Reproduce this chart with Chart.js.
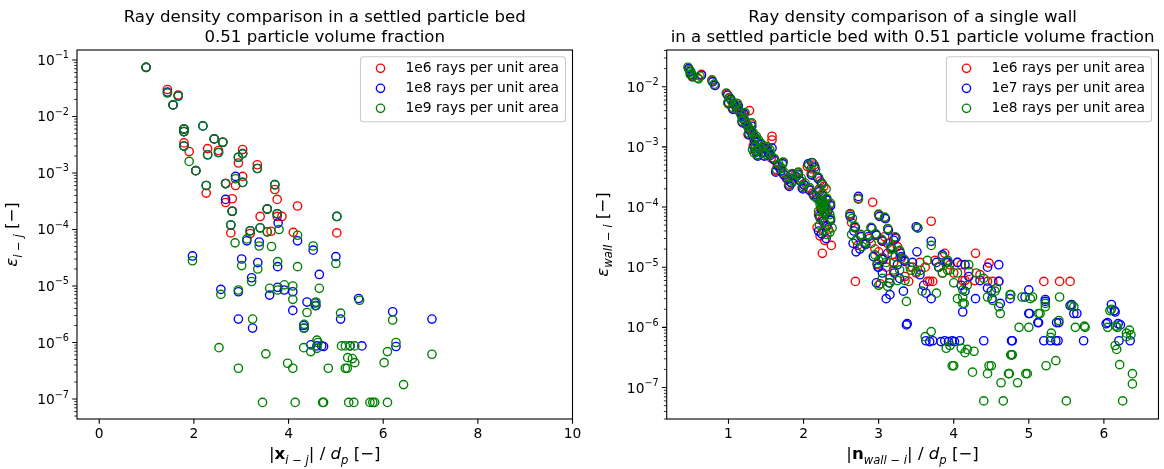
<!DOCTYPE html>
<html>
<head>
<meta charset="utf-8">
<script src="https://cdn.jsdelivr.net/npm/chart.js@4"></script>
<style>
  body { margin: 0; background: #fff; width: 1164px; height: 469px; overflow: hidden; position: relative; }
  .panel { position: absolute; top: 0; height: 469px; }
</style>
</head>
<body>
<div class="panel" style="left:0;width:585px"><canvas id="bed" width="585" height="469"></canvas></div>
<div class="panel" style="left:585px;width:579px"><canvas id="wall" width="579" height="469"></canvas></div>
<script>
const FONT = '"DejaVu Sans", sans-serif';
const colors = ['#ff0000', '#0000ff', '#008000'];

// left panel: particle to particle
const bedLabels = ['1e6 rays per unit area', '1e8 rays per unit area', '1e9 rays per unit area'];
const bedXTicks = [0, 2, 4, 6, 8, 10];
const bedYTicks = [1e-7, 1e-6, 1e-5, 1e-4, 1e-3, 1e-2, 1e-1];

const bed1e6 = [
  [0.99, 7.4e-2], [1.44, 3.0e-2], [1.67, 2.4e-2], [1.56, 1.6e-2], [1.79, 6.0e-3], [1.79, 5.4e-3],
  [1.79, 3.4e-3], [1.90, 2.4e-3], [2.04, 1.1e-3], [2.26, 4.4e-4], [2.29, 2.7e-3], [2.43, 4.0e-3],
  [2.52, 2.5e-3], [2.61, 3.5e-3], [2.67, 6.5e-4], [2.67, 3.0e-4], [2.81, 3.5e-4], [2.81, 2.1e-4],
  [2.78, 8.7e-5], [2.88, 6.0e-4], [2.94, 1.5e-3], [3.03, 2.6e-3], [3.03, 8.7e-4], [3.34, 1.4e-3],
  [3.40, 1.7e-4], [3.55, 2.3e-4], [3.71, 5.1e-4], [3.76, 3.4e-4], [3.76, 1.7e-4], [3.86, 1.7e-4],
  [4.19, 2.6e-4], [5.02, 8.7e-5], [3.19, 8.5e-5], [3.55, 9.1e-5], [3.63, 9.3e-5], [4.10, 8.9e-5]
];
const bed1e8 = [
  [0.99, 7.4e-2], [1.44, 2.7e-2], [1.67, 2.3e-2], [1.56, 1.6e-2], [1.79, 6.0e-3], [1.79, 5.4e-3],
  [1.79, 3.0e-3], [2.04, 1.1e-3], [2.19, 6.8e-3], [2.26, 6.0e-4], [2.29, 2.1e-3], [2.43, 4.0e-3],
  [2.52, 2.3e-3], [2.61, 3.5e-3], [2.67, 6.5e-4], [2.67, 3.4e-4], [2.81, 2.1e-4], [2.78, 1.2e-4],
  [2.88, 8.7e-4], [2.94, 1.9e-3], [3.03, 2.2e-3], [3.03, 6.8e-4], [3.34, 1.2e-3], [3.40, 1.07e-4],
  [3.55, 2.3e-4], [3.71, 6.2e-4], [3.76, 1.9e-4], [3.78, 1.3e-4], [5.02, 1.7e-4], [3.19, 9.5e-5],
  [3.12, 6.3e-5], [4.19, 6.3e-5], [1.97, 3.4e-5], [2.57, 8.7e-6], [2.94, 7.9e-6], [2.94, 2.6e-6],
  [3.01, 3.0e-5], [3.22, 1.4e-5], [3.24, 1.8e-6], [3.38, 6.0e-5], [3.35, 2.6e-5], [3.60, 6.9e-6],
  [3.77, 2.2e-5], [3.77, 9.5e-6], [3.91, 8.5e-6], [4.09, 7.9e-6], [4.09, 3.7e-6], [4.39, 5.2e-6],
  [4.33, 1.8e-6], [4.47, 9.1e-7], [4.52, 4.3e-5], [4.58, 4.5e-6], [4.60, 8.7e-7], [4.65, 1.6e-5],
  [4.74, 8.5e-7], [5.00, 3.3e-5], [5.10, 2.6e-6], [5.30, 8.7e-7], [5.48, 6.0e-6], [5.55, 8.7e-7],
  [6.20, 3.5e-6], [6.27, 8.5e-7], [7.03, 2.6e-6], [4.56, 5.0e-6], [4.32, 2.0e-6], [4.70, 8.7e-7]
];
const bed1e9 = [
  [0.99, 7.4e-2], [1.44, 2.6e-2], [1.67, 2.3e-2], [1.56, 1.6e-2], [1.79, 6.0e-3], [1.79, 5.4e-3],
  [1.79, 3.0e-3], [1.90, 1.6e-3], [2.04, 1.1e-3], [2.19, 6.8e-3], [2.26, 6.0e-4], [2.29, 2.1e-3],
  [2.43, 4.0e-3], [2.52, 2.3e-3], [2.61, 3.5e-3], [2.67, 6.5e-4], [2.81, 2.1e-4], [2.78, 1.2e-4],
  [2.88, 7.9e-4], [2.94, 1.9e-3], [3.03, 2.2e-3], [3.03, 6.8e-4], [3.34, 1.2e-3], [3.40, 1.07e-4],
  [3.55, 2.3e-4], [3.71, 6.2e-4], [3.76, 1.9e-4], [3.80, 1.0e-4], [5.02, 1.7e-4], [3.19, 9.5e-5],
  [3.55, 9.1e-5], [4.19, 7.9e-5], [2.87, 5.8e-5], [3.12, 6.8e-5], [3.64, 5.0e-5], [4.52, 5.1e-5],
  [1.97, 2.8e-5], [2.57, 7.1e-6], [2.94, 8.5e-6], [2.53, 8.1e-7], [2.94, 3.5e-7], [3.01, 2.3e-5],
  [3.22, 1.2e-5], [3.24, 2.6e-6], [3.38, 5.1e-5], [3.35, 2.0e-5], [3.45, 8.7e-8], [3.52, 6.3e-7],
  [3.60, 9.1e-6], [3.77, 2.7e-5], [3.77, 8.5e-6], [3.91, 1.05e-5], [3.98, 4.3e-7], [4.09, 1.0e-5],
  [4.09, 5.8e-6], [4.09, 3.5e-7], [4.14, 8.7e-8], [4.19, 2.2e-5], [4.39, 3.4e-6], [4.33, 2.1e-6],
  [4.32, 8.1e-7], [4.47, 6.9e-7], [4.58, 5.2e-6], [4.60, 1.1e-6], [4.62, 1.0e-6], [4.60, 7.9e-7],
  [4.65, 9.1e-6], [4.74, 8.7e-8], [4.72, 8.7e-8], [4.84, 3.5e-7], [5.10, 3.3e-6], [5.12, 8.7e-7],
  [5.20, 8.7e-7], [5.25, 5.4e-7], [5.27, 8.7e-8], [5.24, 3.5e-7], [5.20, 3.5e-7], [5.35, 5.2e-7],
  [5.40, 4.4e-7], [5.38, 8.7e-8], [5.50, 5.6e-6], [5.72, 8.7e-8], [5.78, 8.7e-8], [5.82, 8.7e-8],
  [6.20, 2.5e-6], [6.27, 1.0e-6], [6.09, 6.9e-7], [6.02, 4.4e-7], [6.43, 1.8e-7], [6.09, 8.7e-8],
  [7.03, 6.2e-7], [4.56, 4.5e-6], [4.32, 1.8e-6], [5.00, 2.5e-5], [5.30, 8.7e-7], [5.40, 8.7e-7]
];

// right panel: single wall
const wallLabels = ['1e6 rays per unit area', '1e7 rays per unit area', '1e8 rays per unit area'];
const wallXTicks = [1, 2, 3, 4, 5, 6];
const wallYTicks = [1e-7, 1e-6, 1e-5, 1e-4, 1e-3, 1e-2];

const wall1e6 = [
  [0.47, 2.0e-2], [0.49, 1.8e-2], [0.50, 1.6e-2], [0.52, 1.45e-2], [0.64, 1.6e-2], [0.59, 1.4e-2],
  [0.78, 1.25e-2], [0.82, 1.05e-2], [0.98, 7.5e-3], [1.02, 6.5e-3], [1.06, 5.3e-3], [1.10, 4.5e-3],
  [1.14, 4.0e-3], [1.17, 3.4e-3], [1.21, 2.8e-3], [1.28, 4.0e-3], [1.24, 2.3e-3], [1.27, 2.0e-3],
  [1.31, 1.7e-3], [1.35, 1.45e-3], [1.38, 1.25e-3], [1.33, 1.05e-3], [1.40, 9.5e-4], [1.44, 8.2e-4],
  [1.47, 7.2e-4], [1.52, 8.5e-4], [1.58, 1.5e-3], [1.58, 1.3e-3], [1.57, 6.5e-4], [1.65, 5.0e-4],
  [1.69, 4.3e-4], [1.73, 3.6e-4], [1.77, 3.0e-4], [1.82, 2.6e-4], [1.88, 3.3e-4], [1.94, 2.9e-4],
  [2.00, 2.4e-4], [2.05, 4.7e-4], [2.10, 4.3e-4], [2.14, 5.0e-4], [2.18, 3.2e-4], [2.22, 2.7e-4],
  [2.27, 2.2e-4], [2.12, 1.7e-4], [2.17, 1.5e-4], [2.22, 1.3e-4], [2.27, 1.1e-4], [2.32, 9.0e-5],
  [2.20, 7.5e-5], [2.25, 6.2e-5], [2.30, 5.0e-5], [2.18, 4.6e-5], [2.25, 1.7e-5], [2.37, 2.3e-5],
  [2.33, 4.3e-5], [2.64, 5.5e-5], [2.73, 1.4e-4], [2.92, 1.2e-4], [2.69, 5.8e-6], [2.72, 2.3e-5],
  [2.88, 3.0e-5], [2.95, 2.0e-5], [3.00, 1.8e-5], [3.02, 5.3e-6], [3.10, 1.0e-5], [3.15, 6.5e-6],
  [3.08, 3.2e-5], [3.12, 2.5e-5], [3.18, 1.6e-5], [3.20, 1.2e-5], [3.25, 2.2e-5], [3.30, 1.4e-5],
  [3.40, 5.8e-6], [3.45, 1.0e-5], [3.50, 8.0e-6], [3.70, 5.8e-5], [3.65, 5.8e-6], [3.68, 5.8e-6],
  [3.72, 5.8e-6], [3.88, 1.7e-5], [3.80, 1.0e-5], [4.00, 8.0e-6], [4.12, 6.0e-6], [4.15, 6.0e-6],
  [4.28, 6.0e-6], [4.29, 1.7e-5], [4.47, 1.17e-5], [4.45, 5.8e-6], [4.52, 5.8e-6], [5.20, 5.8e-6],
  [5.41, 5.8e-6], [5.55, 5.8e-6], [3.95, 1.1e-5], [4.10, 1.1e-5], [3.35, 7.0e-6],
  [1.00, 5.5e-3], [1.05, 4.4e-3], [1.12, 5.2e-3], [1.18, 2.6e-3], [1.20, 3.6e-3], [1.26, 1.6e-3],
  [1.30, 2.4e-3], [1.34, 1.3e-3], [1.36, 8.5e-4], [1.42, 1.1e-3], [1.46, 1.0e-3], [1.50, 9.5e-4],
  [1.55, 7.5e-4], [1.61, 6.0e-4], [1.38, 7.2e-4], [1.63, 4.0e-4], [1.72, 5.5e-4], [1.80, 2.3e-4],
  [1.84, 3.5e-4], [1.92, 3.7e-4], [1.98, 2.1e-4], [2.07, 2.0e-4], [2.10, 3.5e-4], [2.20, 1.9e-4],
  [2.24, 1.6e-4], [2.30, 1.35e-4], [2.35, 1.1e-4], [2.23, 9.5e-5], [2.28, 8.0e-5], [2.35, 6.2e-5],
  [2.22, 3.3e-5], [2.28, 2.8e-5], [2.62, 7.5e-5], [2.68, 4.5e-5], [2.76, 3.3e-5], [2.82, 2.5e-5],
  [2.90, 4.5e-5], [2.96, 3.5e-5], [3.00, 7.4e-5], [3.04, 2.8e-5], [3.08, 6.6e-5], [3.12, 4.3e-5],
  [3.16, 2.0e-5], [3.22, 3.0e-5], [3.28, 1.8e-5], [3.34, 1.3e-5], [3.05, 1.4e-5], [2.98, 1.1e-5],
  [3.20, 8.5e-6], [3.55, 1.2e-5], [3.62, 1.0e-5], [3.75, 1.3e-5], [3.85, 8.0e-6], [3.92, 1.2e-5],
  [4.05, 1.2e-5], [4.20, 8.5e-6], [4.35, 7.5e-6], [4.60, 5.8e-6]
];
const wall1e7 = [
  [0.47, 2.0e-2], [0.49, 1.8e-2], [0.51, 1.6e-2], [0.52, 1.5e-2], [0.64, 1.55e-2], [0.79, 1.2e-2],
  [0.82, 1.05e-2], [0.99, 7.2e-3], [1.03, 6.2e-3], [1.07, 5.2e-3], [1.11, 4.4e-3], [1.15, 3.8e-3],
  [1.18, 3.2e-3], [1.22, 2.7e-3], [1.25, 2.3e-3], [1.28, 1.9e-3], [1.32, 1.6e-3], [1.36, 1.4e-3],
  [1.39, 1.2e-3], [1.34, 1.0e-3], [1.41, 9.0e-4], [1.45, 8.0e-4], [1.48, 7.0e-4], [1.53, 8.0e-4],
  [1.58, 9.5e-4], [1.66, 4.8e-4], [1.70, 4.0e-4], [1.74, 3.4e-4], [1.79, 2.9e-4], [1.84, 2.5e-4],
  [1.90, 3.2e-4], [1.96, 2.7e-4], [2.01, 2.3e-4], [2.06, 5.2e-4], [2.11, 5.5e-4], [2.15, 4.6e-4],
  [2.19, 3.0e-4], [2.24, 2.5e-4], [2.13, 1.6e-4], [2.18, 1.4e-4], [2.23, 1.25e-4], [2.28, 1.05e-4],
  [2.33, 8.8e-5], [2.21, 7.0e-5], [2.26, 5.8e-5], [2.24, 3.6e-5], [2.31, 4.8e-5], [2.67, 4.0e-5],
  [2.73, 1.5e-4], [2.66, 2.5e-5], [2.70, 1.8e-5], [2.75, 2.0e-5], [2.86, 3.2e-5], [2.93, 1.5e-5],
  [2.97, 5.5e-6], [3.00, 1.0e-5], [3.05, 8.0e-6], [3.10, 3.0e-6], [3.15, 3.5e-6], [3.12, 1.7e-5],
  [3.20, 2.8e-5], [3.25, 1.1e-5], [3.33, 4.0e-6], [3.37, 1.1e-6], [3.30, 1.5e-5], [3.50, 4.7e-5],
  [3.52, 4.5e-5], [3.70, 2.7e-5], [3.45, 1.2e-5], [3.55, 7.5e-6], [3.60, 5.0e-6], [3.63, 6.0e-7],
  [3.72, 6.0e-7], [3.80, 1.0e-5], [3.90, 1.2e-5], [3.88, 6.0e-7], [3.98, 6.0e-7], [4.05, 1.2e-5],
  [4.08, 6.0e-7], [4.10, 5.0e-6], [4.15, 4.0e-6], [4.29, 3.0e-6], [4.40, 6.0e-7], [4.45, 1.0e-5],
  [4.50, 4.0e-6], [4.60, 1.1e-5], [4.62, 2.5e-6], [4.75, 3.0e-6], [4.77, 6.0e-7], [4.78, 6.0e-7],
  [4.95, 3.2e-6], [5.00, 1.7e-6], [5.12, 1.2e-6], [5.22, 2.7e-6], [5.20, 6.0e-7], [5.29, 6.0e-7],
  [5.36, 6.0e-7], [5.39, 6.0e-7], [5.40, 1.2e-6], [5.57, 2.4e-6], [5.64, 1.7e-6], [5.73, 6.0e-7],
  [6.05, 1.2e-6], [6.10, 2.4e-6], [6.15, 1.8e-6], [6.20, 6.0e-7], [6.35, 6.0e-7], [6.22, 1.1e-6],
  [1.00, 5.2e-3], [1.06, 4.2e-3], [1.13, 4.8e-3], [1.19, 2.5e-3], [1.21, 3.5e-3], [1.27, 1.6e-3],
  [1.31, 2.2e-3], [1.35, 1.25e-3], [1.37, 8.2e-4], [1.43, 1.1e-3], [1.47, 9.5e-4], [1.51, 9.0e-4],
  [1.56, 7.2e-4], [1.60, 6.2e-4], [1.39, 7.0e-4], [1.63, 3.8e-4], [1.72, 5.2e-4], [1.81, 2.2e-4],
  [1.85, 3.4e-4], [1.93, 3.5e-4], [1.99, 2.0e-4], [2.08, 1.9e-4], [2.11, 3.4e-4], [2.21, 1.8e-4],
  [2.25, 1.55e-4], [2.31, 1.3e-4], [2.36, 1.05e-4], [2.24, 9.0e-5], [2.29, 7.5e-5], [2.36, 6.0e-5],
  [2.20, 4.0e-5], [2.30, 3.0e-5], [2.62, 7.0e-5], [2.69, 4.6e-5], [2.77, 3.2e-5], [2.83, 2.4e-5],
  [2.91, 4.4e-5], [2.97, 3.4e-5], [3.01, 7.0e-5], [3.05, 2.7e-5], [3.09, 6.4e-5], [3.13, 4.1e-5],
  [3.17, 2.1e-5], [3.23, 3.1e-5], [3.29, 1.7e-5], [3.35, 1.25e-5], [3.06, 1.35e-5], [2.99, 1.0e-5],
  [3.21, 8.0e-6], [3.14, 5.5e-6], [3.28, 6.5e-6], [3.51, 1.8e-5], [3.77, 1.2e-5], [3.92, 1.2e-5],
  [3.63, 3.7e-6], [3.70, 3.0e-6], [4.12, 1.8e-6], [4.51, 3.0e-6], [4.60, 5.8e-6], [4.45, 4.5e-6],
  [5.01, 1.7e-6], [5.13, 1.2e-6], [5.22, 2.9e-6], [5.37, 1.2e-6], [5.60, 1.7e-6], [5.55, 2.3e-6],
  [6.14, 1.9e-6], [6.03, 1.15e-6], [6.19, 1.15e-6], [3.38, 1.15e-6], [3.68, 5.8e-7], [3.83, 5.8e-7],
  [3.93, 5.8e-7], [4.01, 5.8e-7], [5.00, 4.2e-6], [4.20, 7.0e-6], [4.35, 6.0e-6], [3.85, 1.6e-5],
  [4.15, 1.1e-5]
];
const wall1e8 = [
  [0.46, 2.1e-2], [0.48, 1.9e-2], [0.50, 1.75e-2], [0.49, 1.6e-2], [0.53, 1.5e-2], [0.62, 1.5e-2],
  [0.60, 1.35e-2], [0.78, 1.3e-2], [0.81, 1.1e-2], [0.97, 7.8e-3], [1.01, 6.6e-3], [1.04, 5.8e-3],
  [1.09, 5.0e-3], [1.13, 4.2e-3], [1.16, 3.6e-3], [1.20, 3.0e-3], [1.23, 2.5e-3], [1.26, 2.2e-3],
  [1.30, 1.9e-3], [1.33, 1.7e-3], [1.37, 1.5e-3], [1.40, 1.3e-3], [1.32, 9.0e-4], [1.36, 1.0e-3],
  [1.42, 9.5e-4], [1.46, 7.8e-4], [1.50, 7.5e-4], [1.55, 9.0e-4], [1.67, 5.2e-4], [1.71, 4.4e-4],
  [1.75, 3.7e-4], [1.80, 3.1e-4], [1.86, 2.7e-4], [1.92, 3.4e-4], [1.97, 3.0e-4], [2.02, 2.5e-4],
  [2.07, 5.0e-4], [2.12, 5.4e-4], [2.16, 4.2e-4], [2.20, 3.1e-4], [2.25, 2.4e-4], [2.30, 2.0e-4],
  [2.14, 1.5e-4], [2.19, 1.35e-4], [2.23, 1.2e-4], [2.27, 1.15e-4], [2.30, 1.0e-4], [2.25, 9.5e-5],
  [2.20, 8.5e-5], [2.27, 8.0e-5], [2.35, 7.5e-5], [2.22, 6.5e-5], [2.28, 5.5e-5], [2.38, 4.5e-5],
  [2.35, 3.8e-5], [2.26, 4.0e-5], [2.65, 6.5e-5], [2.64, 3.5e-5], [2.73, 1.35e-4], [2.70, 2.8e-5],
  [2.78, 2.2e-5], [2.85, 3.5e-5], [2.90, 2.5e-5], [2.95, 1.6e-5], [3.00, 1.3e-5], [3.00, 5.0e-6],
  [3.05, 6.5e-6], [3.10, 1.2e-5], [3.15, 5.5e-6], [3.18, 2.0e-5], [3.22, 1.5e-5], [3.28, 9.0e-6],
  [3.37, 2.7e-6], [3.35, 6.0e-6], [3.52, 4.5e-5], [3.70, 2.3e-5], [3.42, 1.0e-5], [3.50, 8.5e-6],
  [3.58, 4.0e-6], [3.62, 7.0e-7], [3.70, 8.5e-7], [3.80, 1.0e-5], [3.85, 8.0e-6], [3.92, 1.3e-5],
  [3.95, 9.0e-6], [3.90, 4.5e-7], [4.00, 2.3e-7], [3.98, 2.3e-7], [4.05, 8.0e-6], [4.10, 4.5e-7],
  [4.15, 3.8e-7], [4.18, 5.0e-6], [4.12, 2.5e-6], [4.25, 1.8e-7], [4.27, 4.0e-7], [4.40, 6.0e-8],
  [4.45, 1.7e-7], [4.47, 2.3e-7], [4.55, 4.0e-6], [4.60, 2.2e-6], [4.63, 1.2e-7], [4.66, 6.0e-8],
  [4.73, 1.7e-7], [4.75, 3.5e-6], [4.77, 3.5e-7], [4.78, 3.5e-7], [4.85, 1.2e-7], [4.87, 1.0e-6],
  [4.96, 1.7e-7], [5.00, 1.0e-6], [5.02, 3.0e-6], [5.15, 1.7e-6], [5.22, 2.5e-6], [5.23, 2.3e-7],
  [5.30, 8.0e-7], [5.36, 2.8e-7], [5.41, 3.2e-6], [5.40, 1.3e-6], [5.50, 6.0e-8], [5.60, 2.2e-6],
  [5.62, 1.0e-6], [5.75, 1.0e-6], [6.05, 1.0e-6], [6.10, 2.0e-6], [6.18, 1.0e-6], [6.15, 5.0e-7],
  [6.17, 4.3e-7], [6.21, 2.4e-7], [6.25, 6.0e-8], [6.30, 8.0e-7], [6.34, 9.0e-7], [6.36, 7.5e-7],
  [6.38, 1.7e-7], [6.38, 1.15e-7],
  [0.99, 5.4e-3], [1.06, 4.5e-3], [1.11, 5.3e-3], [1.18, 2.7e-3], [1.22, 3.7e-3], [1.27, 1.7e-3],
  [1.31, 2.5e-3], [1.35, 1.35e-3], [1.37, 8.8e-4], [1.43, 1.15e-3], [1.47, 1.05e-3], [1.52, 1.0e-3],
  [1.56, 7.8e-4], [1.61, 6.4e-4], [1.39, 7.5e-4], [1.34, 8.0e-4], [1.64, 4.2e-4], [1.73, 5.6e-4],
  [1.81, 2.4e-4], [1.85, 3.6e-4], [1.93, 3.8e-4], [1.99, 2.2e-4], [2.08, 2.1e-4], [2.11, 3.7e-4],
  [2.21, 2.0e-4], [2.25, 1.7e-4], [2.31, 1.4e-4], [2.36, 1.15e-4], [2.24, 1.0e-4], [2.29, 8.5e-5],
  [2.36, 6.5e-5], [2.21, 5.0e-5], [2.31, 3.5e-5], [2.24, 1.05e-4], [2.26, 1.25e-4], [2.22, 1.1e-4],
  [2.62, 7.8e-5], [2.68, 4.8e-5], [2.76, 3.5e-5], [2.82, 2.6e-5], [2.90, 4.6e-5], [2.96, 3.6e-5],
  [3.00, 7.6e-5], [3.04, 2.9e-5], [3.08, 6.8e-5], [3.12, 4.4e-5], [3.16, 2.2e-5], [3.22, 3.2e-5],
  [3.28, 1.9e-5], [3.34, 1.35e-5], [3.05, 1.45e-5], [2.98, 1.15e-5], [3.20, 9.0e-6], [3.12, 4.8e-6],
  [3.25, 6.0e-6], [3.43, 8.9e-6], [3.56, 8.9e-6], [3.77, 3.7e-6], [3.92, 8.9e-6], [4.05, 3.0e-6],
  [4.12, 3.2e-6], [4.14, 2.5e-6], [4.12, 4.2e-6], [4.45, 3.2e-6], [4.52, 2.8e-6], [4.57, 4.5e-6],
  [4.62, 1.7e-6], [4.76, 3.5e-6], [4.76, 3.5e-7], [4.91, 3.2e-6], [5.05, 3.2e-6], [5.13, 1.7e-6],
  [5.22, 2.2e-6], [5.29, 6.8e-7], [5.57, 2.3e-6], [5.74, 1.05e-6], [6.08, 1.9e-6], [6.16, 1.05e-6],
  [6.30, 7.0e-7], [3.95, 5.0e-7], [4.18, 4.3e-7], [4.50, 2.3e-7], [4.74, 1.7e-7], [4.98, 1.7e-7],
  [4.20, 1.1e-5], [4.30, 8.0e-6], [4.40, 6.5e-6], [3.65, 1.3e-5], [3.85, 1.5e-5], [4.00, 5.5e-6]
];

const SUP = { '-': '\u2212', '0': '0', '1': '1', '2': '2', '3': '3', '4': '4', '5': '5', '6': '6', '7': '7', '8': '8', '9': '9' };

function richWidth(ctx, segs) {
  let w = 0;
  segs.forEach(s => { ctx.font = s.font; w += ctx.measureText(s.t).width; });
  return w;
}
function drawRich(ctx, segs, x, y) {
  segs.forEach(s => {
    ctx.font = s.font;
    ctx.fillText(s.t, x, y + (s.dy || 0));
    x += ctx.measureText(s.t).width;
  });
}

const F = size => size + 'px ' + FONT;
const FI = size => 'italic ' + size + 'px ' + FONT;
const FB = size => 'bold ' + size + 'px ' + FONT;

function framePlugin(p) {
  return {
    id: 'frame',
    afterDraw(chart) {
      const ctx = chart.ctx;
      const a = chart.chartArea;
      const xs = chart.scales.x, ys = chart.scales.y;
      ctx.save();
      ctx.strokeStyle = '#000';
      ctx.fillStyle = '#000';

      // axes box
      ctx.lineWidth = 1.1;
      ctx.strokeRect(a.left, a.top, a.right - a.left, a.bottom - a.top);

      // x ticks
      ctx.beginPath();
      p.xTicks.forEach(v => {
        const px = xs.getPixelForValue(v);
        ctx.moveTo(px, a.bottom); ctx.lineTo(px, a.bottom + 4.8);
      });
      ctx.stroke();

      // y ticks, major and minor
      const e0 = Math.floor(Math.log10(ys.min)), e1 = Math.ceil(Math.log10(ys.max));
      ctx.lineWidth = 0.8;
      ctx.beginPath();
      for (let e = e0; e <= e1; e++) {
        for (let m = 2; m < 10; m++) {
          const v = m * Math.pow(10, e);
          if (v < ys.min || v > ys.max) continue;
          const py = ys.getPixelForValue(v);
          ctx.moveTo(a.left - 2.8, py); ctx.lineTo(a.left, py);
        }
      }
      ctx.stroke();
      ctx.lineWidth = 1.1;
      ctx.beginPath();
      p.yTicks.forEach(v => {
        const py = ys.getPixelForValue(v);
        ctx.moveTo(a.left - 4.8, py); ctx.lineTo(a.left, py);
      });
      ctx.stroke();

      // y tick labels as 10^n
      ctx.textBaseline = 'alphabetic';
      ctx.textAlign = 'left';
      p.yTicks.forEach(v => {
        const py = ys.getPixelForValue(v);
        const exp = String(Math.round(Math.log10(v))).split('').map(c => SUP[c]).join('');
        const segs = [{ t: '10', font: F(13.8) }, { t: exp, font: F(9.7), dy: -6.5 }];
        const w = richWidth(ctx, segs);
        drawRich(ctx, segs, a.left - 8 - w, py + 5);
      });

      // titles
      const cx = (a.left + a.right) / 2;
      ctx.textAlign = 'center';
      ctx.font = F(16.6);
      ctx.fillText(p.title[0], cx, 21.8);
      ctx.fillText(p.title[1], cx, 41.7);

      // x axis label
      ctx.textAlign = 'left';
      const xw = richWidth(ctx, p.xLabel);
      drawRich(ctx, p.xLabel, cx - xw / 2, 459);

      // y axis label, rotated
      const cy = (a.top + a.bottom) / 2;
      ctx.save();
      ctx.translate(p.yLabelX, cy);
      ctx.rotate(-Math.PI / 2);
      const yw = richWidth(ctx, p.yLabel);
      drawRich(ctx, p.yLabel, -yw / 2, 0);
      ctx.restore();

      // legend
      const lw = 205, lh = 65;
      const lx = a.right - 7 - lw, ly = a.top + 6.7;
      ctx.beginPath();
      ctx.roundRect(lx, ly, lw, lh, 3);
      ctx.fillStyle = 'rgba(255,255,255,0.8)';
      ctx.fill();
      ctx.strokeStyle = '#cccccc';
      ctx.lineWidth = 1.1;
      ctx.stroke();
      ctx.textBaseline = 'middle';
      ctx.font = F(13.8);
      p.labels.forEach((lab, i) => {
        const ry = ly + 11.6 + i * 20;
        ctx.beginPath();
        ctx.arc(lx + 20, ry, 4.15, 0, 2 * Math.PI);
        ctx.strokeStyle = colors[i];
        ctx.lineWidth = 1.38;
        ctx.stroke();
        ctx.fillStyle = '#000';
        ctx.fillText(lab, lx + 45, ry + 0.5);
      });
      ctx.restore();
    }
  };
}

function buildChart(id, p) {
  return new Chart(document.getElementById(id), {
    type: 'scatter',
    data: {
      datasets: p.series.map((s, i) => ({
        label: p.labels[i],
        data: s.map(d => ({ x: d[0], y: d[1] })),
        borderColor: colors[i],
        backgroundColor: 'rgba(0,0,0,0)',
        pointRadius: 4.15,
        pointHoverRadius: 4.15,
        pointBorderWidth: 1.38,
        order: 3 - i
      }))
    },
    options: {
      responsive: false,
      animation: false,
      events: [],
      layout: { padding: { left: 0, top: 50, right: p.padRight, bottom: 0 } },
      plugins: { legend: { display: false }, tooltip: { enabled: false }, title: { display: false } },
      scales: {
        x: {
          type: 'linear', min: p.xMin, max: p.xMax,
          afterFit: s => { s.height = 50; },
          afterBuildTicks: s => { s.ticks = p.xTicks.map(v => ({ value: v })); },
          grid: { display: false, drawTicks: true, tickLength: 4.8 },
          border: { display: false },
          ticks: { padding: 2, color: '#000', maxRotation: 0, font: { family: FONT, size: 13.8 } }
        },
        y: {
          type: 'logarithmic', min: p.yMin, max: p.yMax,
          afterFit: s => { s.width = p.axisLeft; },
          afterBuildTicks: s => { s.ticks = p.yTicks.map(v => ({ value: v, major: true })); },
          grid: { display: false },
          border: { display: false },
          ticks: { display: false }
        }
      }
    },
    plugins: [framePlugin(p)]
  });
}

buildChart('bed', {
  series: [bed1e6, bed1e8, bed1e9],
  labels: bedLabels,
  xTicks: bedXTicks, yTicks: bedYTicks,
  xMin: -0.47, xMax: 10, yMin: 4.43e-8, yMax: 0.150,
  axisLeft: 77, padRight: 12.5, yLabelX: 17,
  title: ['Ray density comparison in a settled particle bed', '0.51 particle volume fraction'],
  xLabel: [
    { t: '|', font: F(16.6) }, { t: 'x', font: FB(16.6) }, { t: 'i \u2212 j', font: FI(11.6), dy: 4.5 },
    { t: '| / ', font: F(16.6) }, { t: 'd', font: FI(16.6) }, { t: 'p', font: FI(11.6), dy: 4.5 },
    { t: ' [\u2212]', font: F(16.6) }
  ],
  yLabel: [
    { t: '\u03b5', font: FI(16.6) }, { t: 'i \u2212 j', font: FI(11.6), dy: 4.5 }, { t: ' [\u2212]', font: F(16.6) }
  ]
});

buildChart('wall', {
  series: [wall1e6, wall1e7, wall1e8],
  labels: wallLabels,
  xTicks: wallXTicks, yTicks: wallYTicks,
  xMin: 0.177, xMax: 6.727, yMin: 3.02e-8, yMax: 0.0407,
  axisLeft: 81.7, padRight: 1.3, yLabelX: 22.5,
  title: ['Ray density comparison of a single wall', 'in a settled particle bed with 0.51 particle volume fraction'],
  xLabel: [
    { t: '|', font: F(16.6) }, { t: 'n', font: FB(16.6) }, { t: 'wall \u2212 i', font: FI(11.6), dy: 4.5 },
    { t: '| / ', font: F(16.6) }, { t: 'd', font: FI(16.6) }, { t: 'p', font: FI(11.6), dy: 4.5 },
    { t: ' [\u2212]', font: F(16.6) }
  ],
  yLabel: [
    { t: '\u03b5', font: FI(16.6) }, { t: 'wall \u2212 i', font: FI(11.6), dy: 4.5 }, { t: ' [\u2212]', font: F(16.6) }
  ]
});
</script>
</body>
</html>
